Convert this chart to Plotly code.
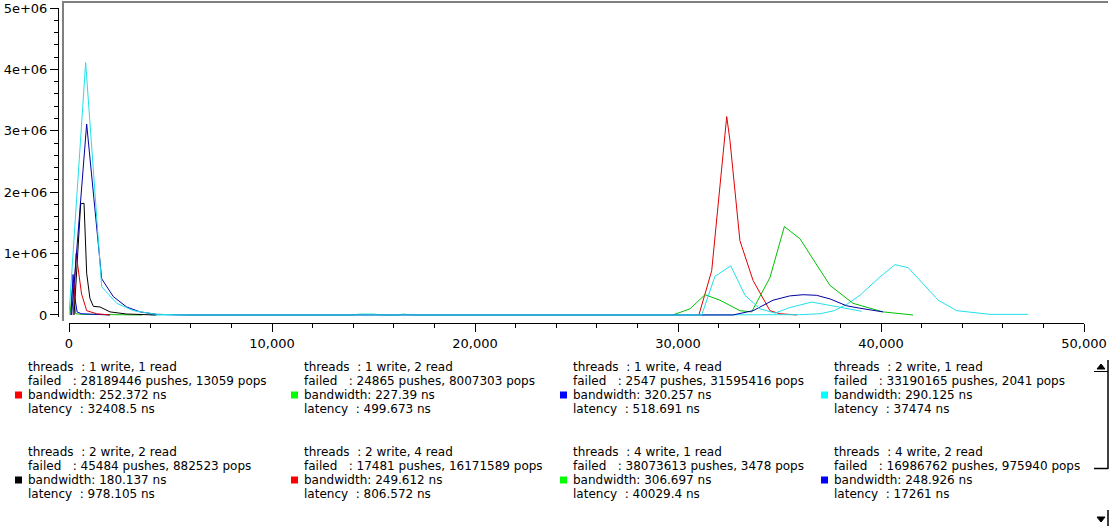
import plotly.graph_objects as go

W, H = 1110, 530

# ---------------- data ----------------
# series drawn (x in ns-bins, y counts)
red1_x = [31030, 31660, 32400, 32560, 33050, 33700, 34530, 35020, 35850]
red1_y = [0, 0.72e6, 3.23e6, 2.84e6, 1.21e6, 0.56e6, 0.07e6, 0.02e6, 0]

green1_x = [50, 180, 330, 700, 1500, 2500, 3600]
green1_y = [0, 0.47e6, 0.02e6, 0.01e6, 0.008e6, 0.004e6, 0]

blue1_x = [100, 200, 280, 400, 600, 1200, 2000]
blue1_y = [0, 0.66e6, 0.3e6, 0.05e6, 0.02e6, 0.01e6, 0]

cyan1_x = [4000, 14000, 14300, 15000, 15400, 16200, 16500, 16900, 30000, 36000, 37000,
           37700, 38300, 38960, 39950, 40690, 41340, 42080, 42820, 43730, 45370, 47240]
cyan1_y = [0, 0, 0.015e6, 0.015e6, 0, 0, 0.015e6, 0, 0, 0.005e6, 0.02e6,
           0.07e6, 0.17e6, 0.32e6, 0.62e6, 0.82e6, 0.77e6, 0.51e6, 0.24e6, 0.07e6, 0.01e6, 0.01e6]

black1_x = [250, 575, 740, 870, 1030, 1200, 1530, 2020, 2840, 4300]
black1_y = [0, 1.81e6, 1.82e6, 0.68e6, 0.27e6, 0.14e6, 0.13e6, 0.05e6, 0.015e6, 0]

red2_x = [210, 350, 620, 870, 1360, 2020]
red2_y = [0, 1.0e6, 0.34e6, 0.07e6, 0.02e6, 0]

green2_x = [29750, 30590, 31330, 32070, 33050, 33630, 34530, 35240, 36010, 37490, 38620, 40100, 41580]
green2_y = [0, 0.1e6, 0.33e6, 0.24e6, 0.07e6, 0.05e6, 0.61e6, 1.44e6, 1.24e6, 0.48e6, 0.19e6, 0.05e6, 0]

blue2_x = [130, 870, 1610, 2180, 2840, 3500, 4320, 5800, 32710, 33700, 34680, 35500,
           36160, 36830, 37500, 38300, 38960, 40100]
blue2_y = [0, 3.11e6, 0.59e6, 0.3e6, 0.13e6, 0.05e6, 0.01e6, 0, 0, 0.07e6, 0.24e6, 0.31e6,
           0.33e6, 0.32e6, 0.26e6, 0.15e6, 0.11e6, 0.05e6]

cyan2_x = [0, 820, 1610, 2350, 3170, 4320, 6000, 31170, 31820, 32600, 33300, 34040,
           34780, 35500, 36590, 37810, 39050]
cyan2_y = [0, 4.11e6, 0.46e6, 0.19e6, 0.07e6, 0.01e6, 0, 0, 0.63e6, 0.8e6, 0.32e6, 0.1e6,
           0.03e6, 0.12e6, 0.21e6, 0.13e6, 0.06e6]

# legend texts
threads = ["1 write, 1 read", "1 write, 2 read", "1 write, 4 read", "2 write, 1 read",
           "2 write, 2 read", "2 write, 4 read", "4 write, 1 read", "4 write, 2 read"]
failed_pushes = ["28189446", "24865", "2547", "33190165", "45484", "17481", "38073613", "16986762"]
failed_pops = ["13059", "8007303", "31595416", "2041", "882523", "16171589", "3478", "975940"]
bandwidth = ["252.372", "227.39", "320.257", "290.125", "180.137", "249.612", "306.697", "248.926"]
latency = ["32408.5", "499.673", "518.691", "37474", "978.105", "806.572", "40029.4", "17261"]
legend_colors = ["#ff0000", "#00ff00", "#0000ff", "#00ffff", "#000000", "#ff0000", "#00ff00", "#0000ff"]

x_ticks = [0, 10000, 20000, 30000, 40000, 50000]
y_ticks = [0, 1e6, 2e6, 3e6, 4e6, 5e6]
y_ticktext = ["0", "1e+06", "2e+06", "3e+06", "4e+06", "5e+06"]

# ---------------- figure ----------------
def fx(px):
    return px / W

def fy(py):
    return 1 - py / H

series = [
    (red1_x, red1_y, "#e00000"),
    (green1_x, green1_y, "#00c000"),
    (blue1_x, blue1_y, "#0000d0"),
    (cyan1_x, cyan1_y, "#20e0e8"),
    (black1_x, black1_y, "#000000"),
    (red2_x, red2_y, "#e00000"),
    (green2_x, green2_y, "#00c000"),
    (blue2_x, blue2_y, "#0000a0"),
    (cyan2_x, cyan2_y, "#20e0e8"),
]

fig = go.Figure()
for xs, ys, c in series:
    fig.add_trace(go.Scatter(x=xs, y=ys, mode="lines", line=dict(color=c, width=1),
                             showlegend=False, hoverinfo="skip"))

font = "DejaVu Sans"
fig.update_layout(
    width=W, height=H,
    margin=dict(l=0, r=0, t=0, b=0),
    paper_bgcolor="white", plot_bgcolor="white",
    template="none",
    showlegend=False,
    xaxis=dict(
        domain=[fx(69), fx(1084)], range=[0, 50000], anchor="free", position=fy(323),
        showline=True, linecolor="black", linewidth=1, showgrid=False, zeroline=False,
        ticks="outside", ticklen=8, tickcolor="black", tickwidth=1,
        tickvals=x_ticks, tickformat=",d",
        tickfont=dict(family=font, size=13, color="black"),
        minor=dict(dtick=2000, tick0=0, ticks="outside", ticklen=4, tickcolor="black", showgrid=False),
    ),
    yaxis=dict(
        domain=[fy(316.5), fy(8)], range=[-25000, 5e6], anchor="free", position=fx(58),
        showline=True, linecolor="black", linewidth=1, showgrid=False, zeroline=False,
        ticks="outside", ticklen=8, tickcolor="black", tickwidth=1,
        tickvals=y_ticks, ticktext=y_ticktext,
        tickfont=dict(family=font, size=13, color="black"),
        minor=dict(dtick=200000, tick0=0, ticks="outside", ticklen=4, tickcolor="black", showgrid=False),
    ),
)

shapes = []
# sunken canvas frame (top and left edges)
shapes.append(dict(type="line", xref="paper", yref="paper", x0=fx(63), x1=fx(63), y0=fy(1), y1=fy(321),
                   line=dict(color="#808080", width=2)))
shapes.append(dict(type="line", xref="paper", yref="paper", x0=fx(62), x1=fx(1108), y0=fy(2), y1=fy(2),
                   line=dict(color="#808080", width=2)))

# legend
col_x = [27, 303, 572, 833]
row_y = [367, 452]
line_dy = 14
anns = []
for i in range(8):
    r, c = divmod(i, 4)
    x0 = col_x[c]
    y0 = row_y[r]
    nb = "\u00a0"
    lines = [
        "threads" + nb * 2 + ": " + threads[i],
        "failed" + nb * 3 + ": " + failed_pushes[i] + " pushes, " + failed_pops[i] + " pops",
        "bandwidth: " + bandwidth[i] + " ns",
        "latency" + nb * 2 + ": " + latency[i] + " ns",
    ]
    for k, t in enumerate(lines):
        anns.append(dict(text=t, xref="paper", yref="paper", x=fx(x0 - 1), y=fy(y0 + k * line_dy),
                         xanchor="left", yanchor="middle", showarrow=False, align="left",
                         font=dict(family=font, size=12, color="black")))
    sy = y0 + 2 * line_dy
    shapes.append(dict(type="rect", xref="paper", yref="paper",
                       x0=fx(x0 - 12), x1=fx(x0 - 5), y0=fy(sy + 3.5), y1=fy(sy - 3.5),
                       line=dict(width=0), fillcolor=legend_colors[i]))

# scroll bar
def path(pts):
    return "M " + " L ".join(f"{fx(a)},{fy(b)}" for a, b in pts) + " Z"

shapes.append(dict(type="path", xref="paper", yref="paper",
                   path=path([(1097, 369), (1105, 369), (1101, 364)]),
                   fillcolor="black", line=dict(color="black", width=1)))
shapes.append(dict(type="line", xref="paper", yref="paper", x0=fx(1094), x1=fx(1108), y0=fy(371.5), y1=fy(371.5),
                   line=dict(color="black", width=1)))
shapes.append(dict(type="line", xref="paper", yref="paper", x0=fx(1108), x1=fx(1108), y0=fy(360), y1=fy(469),
                   line=dict(color="black", width=1.5)))
shapes.append(dict(type="line", xref="paper", yref="paper", x0=fx(1094), x1=fx(1108), y0=fy(468.5), y1=fy(468.5),
                   line=dict(color="black", width=1.5)))
shapes.append(dict(type="path", xref="paper", yref="paper",
                   path=path([(1097, 517), (1105, 517), (1101, 522)]),
                   fillcolor="black", line=dict(color="black", width=1)))
shapes.append(dict(type="line", xref="paper", yref="paper", x0=fx(1108), x1=fx(1108), y0=fy(510), y1=fy(526),
                   line=dict(color="black", width=1.5)))

fig.update_layout(shapes=shapes, annotations=anns)
fig.write_html("out.html")
